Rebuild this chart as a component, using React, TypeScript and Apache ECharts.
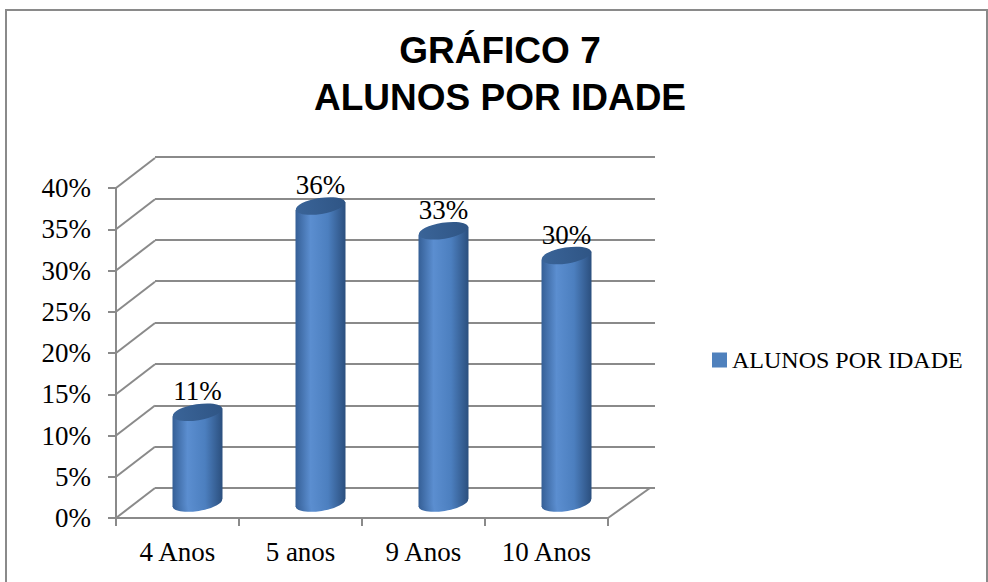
import React, { useEffect, useRef } from "react";
import * as echarts from "echarts";

const categories = ["4 Anos", "5 anos", "9 Anos", "10 Anos"];
const values = [0.11, 0.36, 0.33, 0.3];
const yTicks = [0, 0.05, 0.1, 0.15, 0.2, 0.25, 0.3, 0.35, 0.4];
const seriesName = "ALUNOS POR IDADE";
const titleText = "GRÁFICO 7\nALUNOS POR IDADE";

const SERIF = "'Liberation Serif', 'DejaVu Serif', serif";
const GRID_COLOR = "#8a8a8a";
const DEPTH_DX = 39;
const DEPTH_DY = -30;
const BAR_DX = 20;
const BAR_DY = -15;
const BAR_HALF = 25;
const TILT = 4;

export default function App() {
  const ref = useRef<HTMLDivElement>(null);
  useEffect(() => {
    if (!ref.current) return;
    const chart = echarts.init(ref.current, null, { renderer: "svg" });
    const bodyGrad = () =>
      new echarts.graphic.LinearGradient(0, 0, 1, 0, [
        { offset: 0, color: "#355f96" },
        { offset: 0.3, color: "#5b8ed0" },
        { offset: 0.65, color: "#4c7fbf" },
        { offset: 1, color: "#2b4f7e" },
      ]);
    const topGrad = () =>
      new echarts.graphic.LinearGradient(0, 0, 1, 0, [
        { offset: 0, color: "#3a6498" },
        { offset: 1, color: "#2f5585" },
      ]);
    const option: any = {
      animation: false,
      backgroundColor: "#ffffff",
      title: {
        text: titleText,
        left: 500,
        top: 27,
        textAlign: "center",
        padding: 0,
        textStyle: {
          fontFamily: "'Liberation Sans', Arial, sans-serif",
          fontWeight: "bold",
          fontSize: 37,
          lineHeight: 47,
          color: "#000",
        },
      },
      legend: {
        data: [{ name: seriesName, icon: "rect" }],
        left: 707,
        top: 343,
        itemWidth: 15,
        itemHeight: 15,
        textStyle: { fontFamily: SERIF, fontSize: 24, color: "#000" },
      },
      graphic: [
        {
          type: "rect",
          shape: { x: 6, y: 10, width: 981, height: 620 },
          style: { fill: "none", stroke: "#8a8a8a", lineWidth: 2 },
          silent: true,
        },
      ],
      grid: [
        { left: 116, top: 188, width: 492, height: 330 },
        { left: 155, top: 157, width: 500, height: 331 },
      ],
      xAxis: [
        {
          type: "category",
          gridIndex: 0,
          data: categories,
          boundaryGap: true,
          axisLine: { lineStyle: { color: GRID_COLOR, width: 2 } },
          axisTick: { show: true, length: 8, alignWithLabel: false, lineStyle: { color: GRID_COLOR, width: 2 } },
          axisLabel: { margin: 20, fontFamily: SERIF, fontSize: 27, color: "#000" },
          splitLine: { show: false },
        },
        {
          type: "value",
          gridIndex: 1,
          min: 0,
          max: 1,
          show: false,
        },
      ],
      yAxis: [
        {
          type: "value",
          gridIndex: 0,
          min: 0,
          max: 0.4,
          interval: 0.05,
          axisLine: { show: true, lineStyle: { color: GRID_COLOR, width: 2 } },
          axisTick: { show: true, length: 8, lineStyle: { color: GRID_COLOR, width: 2 } },
          axisLabel: {
            margin: 25,
            fontFamily: SERIF,
            fontSize: 27,
            color: "#000",
            formatter: (v: number) => Math.round(v * 100) + "%",
          },
          splitLine: { show: false },
        },
        {
          type: "value",
          gridIndex: 1,
          min: 0,
          max: 0.4,
          interval: 0.05,
          axisLine: { show: false },
          axisTick: { show: false },
          axisLabel: { show: false },
          splitLine: { show: true, lineStyle: { color: GRID_COLOR, width: 2 } },
        },
      ],
      series: [
        {
          type: "custom",
          name: "walls",
          xAxisIndex: 0,
          yAxisIndex: 0,
          silent: true,
          z: 1,
          data: yTicks.map((v) => [0, v]),
          renderItem: (params: any, api: any) => {
            const v = api.value(1);
            const p = api.coord([0, v]);
            const band = api.size([1, 0])[0];
            const x0 = p[0] - band / 2;
            const children: any[] = [
              {
                type: "line",
                shape: { x1: x0, y1: p[1], x2: x0 + DEPTH_DX, y2: p[1] + DEPTH_DY },
                style: { stroke: GRID_COLOR, lineWidth: 2 },
              },
            ];
            if (v === 0) {
              const xr = x0 + band * categories.length;
              children.push({
                type: "line",
                shape: { x1: xr, y1: p[1], x2: xr + DEPTH_DX + 3, y2: p[1] + DEPTH_DY },
                style: { stroke: GRID_COLOR, lineWidth: 2 },
              });
            }
            return { type: "group", children };
          },
        },
        {
          type: "custom",
          name: seriesName,
          xAxisIndex: 0,
          yAxisIndex: 0,
          z: 5,
          itemStyle: { color: "#4f81bd" },
          data: values.map((v, i) => [i, v]),
          renderItem: (params: any, api: any) => {
            const i = api.value(0);
            const v = api.value(1);
            const top = api.coord([i, v]);
            const base = api.coord([i, 0]);
            const cx = top[0] + BAR_DX;
            const ty = top[1] + BAR_DY;
            const by = base[1] + BAR_DY;
            const rot = Math.atan2(TILT * 2, BAR_HALF * 2);
            return {
              type: "group",
              children: [
                {
                  type: "ellipse",
                  x: cx,
                  y: by,
                  rotation: rot,
                  shape: { cx: 0, cy: 0, rx: BAR_HALF, ry: 8 },
                  style: { fill: bodyGrad() },
                },
                {
                  type: "polygon",
                  shape: {
                    points: [
                      [cx - BAR_HALF, ty + TILT],
                      [cx + BAR_HALF, ty - TILT],
                      [cx + BAR_HALF, by - TILT],
                      [cx - BAR_HALF, by + TILT],
                    ],
                  },
                  style: { fill: bodyGrad() },
                },
                {
                  type: "ellipse",
                  x: cx,
                  y: ty,
                  rotation: rot,
                  shape: { cx: 0, cy: 0, rx: BAR_HALF, ry: 8 },
                  style: { fill: topGrad() },
                },
                {
                  type: "text",
                  x: cx,
                  y: ty - 21,
                  style: {
                    text: Math.round(v * 100) + "%",
                    fontFamily: SERIF,
                    fontSize: 27,
                    fill: "#000",
                    align: "center",
                    verticalAlign: "middle",
                  },
                },
              ],
            };
          },
        },
      ],
    };
    chart.setOption(option);
    return () => chart.dispose();
  }, []);
  return (
    <div
      ref={ref}
      style={{ position: "fixed", left: 0, top: 0, width: 988, height: 582, background: "#fff" }}
    />
  );
}
